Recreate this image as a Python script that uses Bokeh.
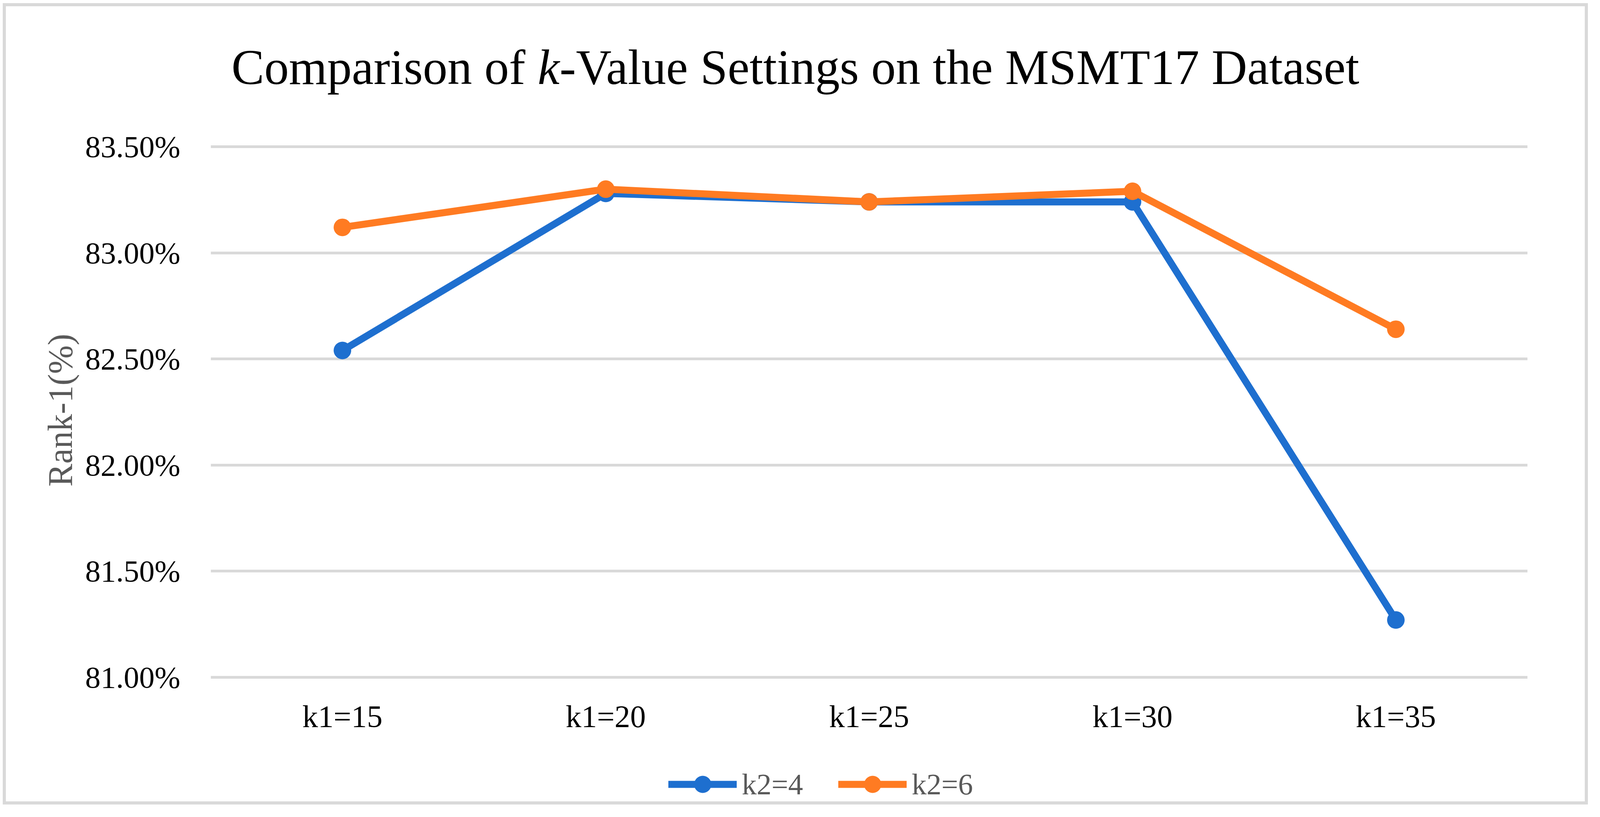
from bokeh.plotting import figure
from bokeh.models import (FactorRange, Range1d, FixedTicker, PrintfTickFormatter,
                          Label, Legend, LegendItem, ColumnDataSource)
from bokeh.embed import file_html
from bokeh.resources import INLINE

# ---- data ----
categories = ["k1=15", "k1=20", "k1=25", "k1=30", "k1=35"]
k2_4 = [82.54, 83.28, 83.24, 83.24, 81.27]
k2_6 = [83.12, 83.30, 83.24, 83.29, 82.64]
series_names = ["k2=4", "k2=6"]
y_ticks = [81.0, 81.5, 82.0, 82.5, 83.0, 83.5]
title_parts = ["Comparison of ", "k", "-Value Settings on the MSMT17 Dataset"]
y_title = "Rank-1(%)"

FONT = "Liberation Serif"
BLUE = "#1E6FCF"
ORANGE = "#FF7B22"
GRID = "#D9D9D9"

W, H = 4058, 2051
p = figure(width=W, height=H,
           x_range=FactorRange(*categories),
           y_range=Range1d(80.4035, 84.1130),
           output_backend="svg", toolbar_location=None,
           min_border_left=524, min_border_right=163,
           min_border_top=26, min_border_bottom=10)
p.title.text = ""
p.outline_line_color = None
p.background_fill_color = "white"
p.border_fill_color = "white"
p.margin = (8, 0, 0, 7)
p.styles = {"border": "8px solid #D9D9D9"}

p.xgrid.visible = False
p.ygrid.grid_line_color = GRID
p.ygrid.grid_line_width = 7

p.yaxis.ticker = FixedTicker(ticks=y_ticks)
p.yaxis.formatter = PrintfTickFormatter(format="%.2f%%")
p.axis.axis_line_color = None
p.axis.major_tick_line_color = None
p.axis.minor_tick_line_color = None
p.axis.major_tick_out = 0
p.axis.major_tick_in = 0
p.axis.major_label_text_font = FONT
p.axis.major_label_text_color = "#000000"
p.yaxis.major_label_text_font_size = "79px"
p.xaxis.major_label_text_font_size = "80px"
p.yaxis.major_label_standoff = 78
# category labels sit just under the lowest gridline, above the legend
p.xaxis.major_label_standoff = -268

p.yaxis.axis_label = y_title
p.yaxis.axis_label_text_font = FONT
p.yaxis.axis_label_text_font_size = "88px"
p.yaxis.axis_label_text_font_style = "normal"
p.yaxis.axis_label_text_color = "#595959"
p.yaxis.axis_label_standoff = 12

src = ColumnDataSource(dict(cat=categories, a=k2_4, b=k2_6))
l1 = p.line("cat", "a", source=src, line_color=BLUE, line_width=18,
            line_join="round", line_cap="round")
m1 = p.scatter("cat", "a", source=src, size=45, fill_color=BLUE, line_color=None)
l2 = p.line("cat", "b", source=src, line_color=ORANGE, line_width=18,
            line_join="round", line_cap="round")
m2 = p.scatter("cat", "b", source=src, size=45, fill_color=ORANGE, line_color=None)

legend = Legend(items=[LegendItem(label=series_names[0], renderers=[l1, m1]),
                       LegendItem(label=series_names[1], renderers=[l2, m2])],
                orientation="horizontal", location=(1172, -5),
                glyph_width=175, glyph_height=110, label_standoff=13, spacing=90,
                padding=0, margin=0, border_line_color=None,
                background_fill_alpha=0,
                label_text_font=FONT, label_text_font_size="76px",
                label_text_color="#595959")
p.add_layout(legend, "center")

# title (three pieces to keep the italic k), placed inside the frame
tx, ty = 53, 1885
fs = 126
w1 = 6.222 * fs
w2 = 0.444 * fs
for txt, xx, style in [(title_parts[0], tx, "normal"),
                       (title_parts[1], tx + w1, "italic"),
                       (title_parts[2], tx + w1 + w2, "normal")]:
    p.add_layout(Label(x=xx, y=ty, x_units="screen", y_units="screen", text=txt,
                       text_font=FONT, text_font_size=f"{fs}px", text_font_style=style,
                       text_color="#000000", text_align="left",
                       text_baseline="alphabetic"))

open("out.html", "w").write(file_html(p, INLINE))
